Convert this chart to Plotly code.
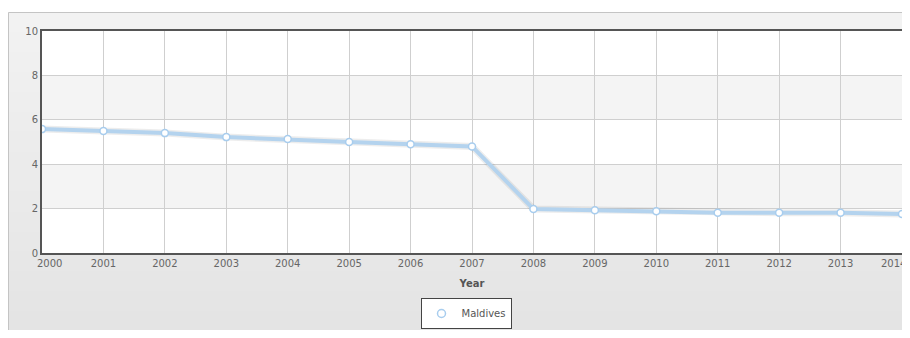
import plotly.graph_objects as go

years = list(range(2000, 2015))
maldives = [5.58, 5.5, 5.4, 5.22, 5.13, 5.0, 4.9, 4.8, 1.98, 1.93, 1.88, 1.81, 1.81, 1.81, 1.76]
series_name = "Maldives"
y_ticks = [0, 2, 4, 6, 8, 10]
x_tick_text = [str(y) for y in years]

# page body has an 8px margin on every side; keep the figure inside the window
OFF = 8
W, H = 910 - OFF, 338 - 2 * OFF
L, R, T = 42 - OFF, 910 - 902, 31 - OFF
B = H - (253 - OFF)
pw = W - L - R
ph = H - T - B

def px_x(px):
    return (px - OFF - L) / pw

def px_y(py):
    return (H - B - (py - OFF)) / ph

fig = go.Figure()

fig.add_trace(go.Scatter(x=years, y=maldives, mode="lines",
                         line=dict(color="rgba(0,0,0,0.07)", width=7),
                         hoverinfo="skip", showlegend=False))
fig.add_trace(go.Scatter(x=years, y=maldives, mode="lines+markers", name=series_name,
                         line=dict(color="#b4d3ee", width=4),
                         marker=dict(symbol="circle", size=7, color="white",
                                     line=dict(color="#a8cdee", width=1.5)),
                         showlegend=False))
fig.add_trace(go.Scatter(x=[None], y=[None], mode="markers", name=series_name,
                         marker=dict(symbol="circle", size=8, color="white",
                                     line=dict(color="#a8cdee", width=1.5))))

shapes = []
n = 16
top_px, bot_px = 12, 331
for i in range(n):
    y0 = top_px + (bot_px - top_px) * i / n
    y1 = top_px + (bot_px - top_px) * (i + 1) / n + 1.5
    t = i / (n - 1)
    c = int(round(0xf2 + (0xe4 - 0xf2) * t))
    shapes.append(dict(type="rect", xref="paper", yref="paper",
                       x0=px_x(8), x1=px_x(911),
                       y0=px_y(min(y1, 332)), y1=px_y(y0),
                       fillcolor=f"rgb({c},{c},{c})", line=dict(width=0), layer="below"))
shapes.append(dict(type="path", xref="paper", yref="paper",
                   path=f"M {px_x(8.5)},{px_y(332)} L {px_x(8.5)},{px_y(12.5)} L {px_x(911)},{px_y(12.5)}",
                   line=dict(color="#c4c4c4", width=1), layer="below"))
shapes.append(dict(type="rect", xref="x", yref="y", x0=2000, x1=2014, y0=0, y1=10,
                   fillcolor="white", line=dict(width=0), layer="below"))
for y0 in [2, 6]:
    shapes.append(dict(type="rect", xref="x", yref="y", x0=2000, x1=2014, y0=y0, y1=y0 + 2,
                       fillcolor="#f4f4f4", line=dict(width=0), layer="below"))

font = "DejaVu Sans, Verdana, sans-serif"

annotations = [
    dict(x=years[0], y=0, xref="x", yref="paper", text=x_tick_text[0], showarrow=False,
         xanchor="left", yanchor="top", xshift=-7, yshift=-3,
         font=dict(size=10, color="#666666")),
    dict(x=years[-1], y=0, xref="x", yref="paper", text=x_tick_text[-1], showarrow=False,
         xanchor="right", yanchor="top", xshift=6, yshift=-3,
         font=dict(size=10, color="#666666")),
]

fig.update_layout(
    width=W, height=H,
    margin=dict(l=L, r=R, t=T, b=B, autoexpand=False),
    paper_bgcolor="white",
    plot_bgcolor="rgba(0,0,0,0)",
    shapes=shapes,
    annotations=annotations,
    font=dict(family=font, size=10, color="#666666"),
    showlegend=True,
    legend=dict(x=px_x(466), xanchor="center", y=px_y(298), yanchor="top",
                bgcolor="white", bordercolor="#444444", borderwidth=1,
                font=dict(size=10, color="#555555"), orientation="h", itemwidth=30),
    xaxis=dict(range=[2000, 2014], tickmode="array", tickvals=years,
               ticktext=[""] + x_tick_text[1:-1] + [""], showgrid=True, gridcolor="#cfcfcf",
               gridwidth=1, showline=True, linecolor="#555555", linewidth=2, mirror=True,
               zeroline=False, ticks="", tickfont=dict(size=10, color="#666666"),
               title=dict(text="<b>Year</b>", font=dict(size=10, color="#555555"), standoff=12)),
    yaxis=dict(range=[0, 10], tickmode="array", tickvals=y_ticks,
               showgrid=True, gridcolor="#cfcfcf", gridwidth=1,
               showline=True, linecolor="#555555", linewidth=2, mirror=True,
               zeroline=False, ticks="", tickfont=dict(size=10, color="#666666")),
)

fig.write_html("out.html", default_width=f"{W}px", default_height=f"{H}px")
